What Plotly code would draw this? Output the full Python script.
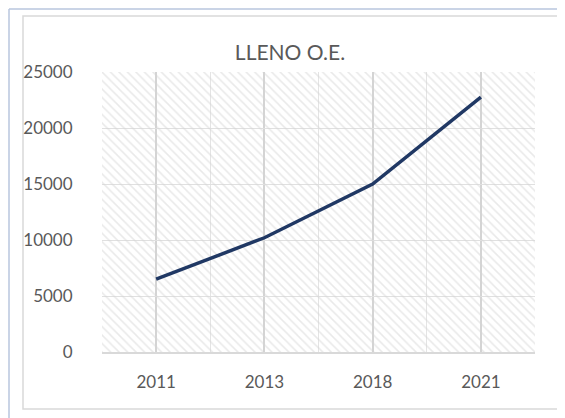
import plotly.graph_objects as go

# ---- data ----
years = ["2011", "2013", "2018", "2021"]
values = [6500, 10200, 15000, 22750]
title_text = "LLENO O.E."
y_ticks = [0, 5000, 10000, 15000, 20000, 25000]

# ---- layout geometry (screen pixels; page body has an 8px margin) ----
OFF = 8
SW, SH = 565, 418
W, H = SW - OFF, SH - OFF
PL, PR, PT, PB = 102 - OFF, 535 - OFF, 72 - OFF, 352 - OFF  # plot area edges in figure px


def px_x(sx):
    return (sx - OFF - PL) / (PR - PL)


def px_y(sy):
    return (PB - (sy - OFF)) / (PB - PT)


n = len(years)
xs = list(range(n))
x_lo, x_hi = -0.5, n - 0.5
y_lo, y_hi = y_ticks[0], y_ticks[-1]

fig = go.Figure()

# hatched plot-area background (decoration)
fig.add_trace(go.Bar(
    x=[(x_lo + x_hi) / 2], y=[y_hi - y_lo], base=[y_lo], width=[x_hi - x_lo],
    marker=dict(color="rgba(0,0,0,0)", line=dict(width=0),
                pattern=dict(shape="\\", fgcolor="#d4d4d4", size=6, solidity=0.26)),
    hoverinfo="skip", showlegend=False,
))

fig.add_trace(go.Scatter(
    x=xs, y=values, mode="lines",
    line=dict(color="#203864", width=3.5),
    showlegend=False,
))

tick_font = dict(family="Lato, 'Open Sans', sans-serif", size=17, color="#595959")

fig.update_layout(
    width=W, height=H,
    margin=dict(l=PL, r=W - PR, t=PT, b=H - PB, pad=0),
    paper_bgcolor="white", plot_bgcolor="white",
    title=dict(text=title_text, x=(290 - OFF) / W, xref="container", xanchor="center",
               y=1 - (53 - OFF) / H, yref="container", yanchor="middle",
               font=dict(family="Lato, 'Open Sans', sans-serif", size=21, color="#595959")),
    bargap=0,
    xaxis=dict(
        range=[x_lo, x_hi], tickvals=xs, ticktext=years,
        showgrid=True, gridcolor="#d4d4d4", gridwidth=2,
        minor=dict(tickmode="linear", tick0=x_lo, dtick=1, showgrid=True,
                   gridcolor="#e4e4e4", gridwidth=1),
        zeroline=False, showline=True, linecolor="#d9d9d9", linewidth=1.5,
        ticks="outside", ticklen=14, tickcolor="rgba(0,0,0,0)",
        tickfont=tick_font, fixedrange=True,
    ),
    yaxis=dict(
        range=[y_lo, y_hi], tickvals=y_ticks, ticktext=[str(v) for v in y_ticks],
        showgrid=True, gridcolor="#e0e0e0", gridwidth=1,
        zeroline=False, showline=False,
        ticks="outside", ticklen=25, tickcolor="rgba(0,0,0,0)",
        tickfont=tick_font, fixedrange=True,
    ),
    shapes=[
        # chart border
        dict(type="rect", xref="paper", yref="paper",
             x0=px_x(23), x1=px_x(558), y0=px_y(409), y1=px_y(16),
             line=dict(color="#d9d9d9", width=1.5), fillcolor="rgba(0,0,0,0)", layer="below"),
        # outer page frame lines
        dict(type="line", xref="paper", yref="paper",
             x0=px_x(9), x1=px_x(580), y0=px_y(9), y1=px_y(9),
             line=dict(color="#b8c6de", width=1.5)),
        dict(type="line", xref="paper", yref="paper",
             x0=px_x(9), x1=px_x(9), y0=px_y(9), y1=px_y(430),
             line=dict(color="#b8c6de", width=1.5)),
    ],
)

fig.write_html("out.html")
